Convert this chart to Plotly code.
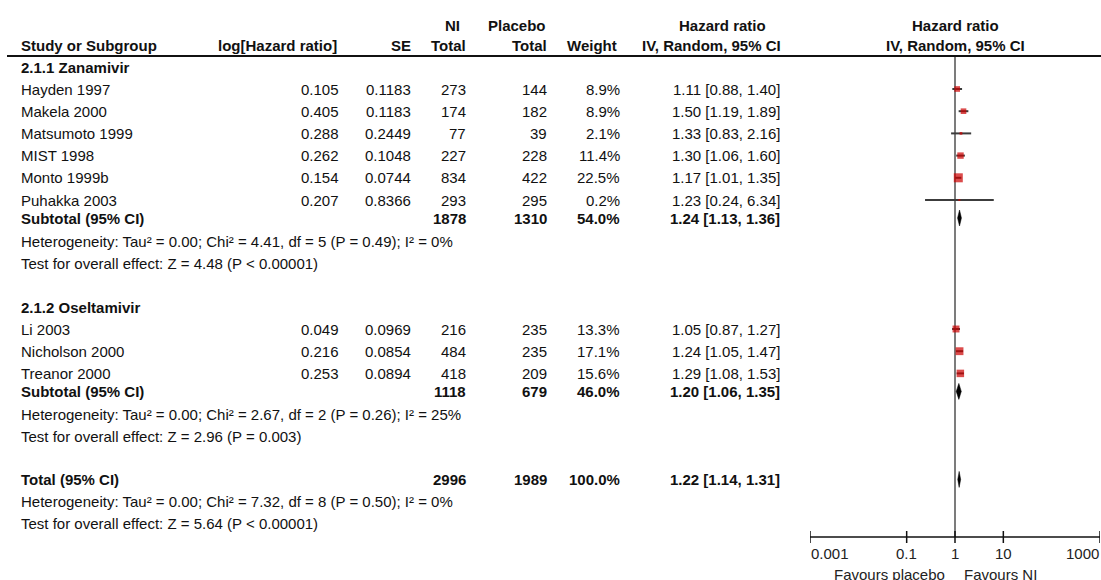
import math
import plotly.graph_objects as go

# ---- data -------------------------------------------------------------
zan_names = ["Hayden 1997", "Makela 2000", "Matsumoto 1999", "MIST 1998", "Monto 1999b", "Puhakka 2003"]
zan_loghr = ["0.105", "0.405", "0.288", "0.262", "0.154", "0.207"]
zan_se = ["0.1183", "0.1183", "0.2449", "0.1048", "0.0744", "0.8366"]
zan_ni = [273, 174, 77, 227, 834, 293]
zan_pl = [144, 182, 39, 228, 422, 295]
zan_weight = [8.9, 8.9, 2.1, 11.4, 22.5, 0.2]
zan_hr = [1.11, 1.50, 1.33, 1.30, 1.17, 1.23]
zan_lo = [0.88, 1.19, 0.83, 1.06, 1.01, 0.24]
zan_hi = [1.40, 1.89, 2.16, 1.60, 1.35, 6.34]

osel_names = ["Li 2003", "Nicholson 2000", "Treanor 2000"]
osel_loghr = ["0.049", "0.216", "0.253"]
osel_se = ["0.0969", "0.0854", "0.0894"]
osel_ni = [216, 484, 418]
osel_pl = [235, 235, 209]
osel_weight = [13.3, 17.1, 15.6]
osel_hr = [1.05, 1.24, 1.29]
osel_lo = [0.87, 1.05, 1.08]
osel_hi = [1.27, 1.47, 1.53]

# pooled estimates: [Zanamivir subtotal, Oseltamivir subtotal, Total]
pool_ni = [1878, 1118, 2996]
pool_pl = [1310, 679, 1989]
pool_weight = [54.0, 46.0, 100.0]
pool_hr = [1.24, 1.20, 1.22]
pool_lo = [1.13, 1.06, 1.14]
pool_hi = [1.36, 1.35, 1.31]
pool_het = [
    "Heterogeneity: Tau² = 0.00; Chi² = 4.41, df = 5 (P = 0.49); I² = 0%",
    "Heterogeneity: Tau² = 0.00; Chi² = 2.67, df = 2 (P = 0.26); I² = 25%",
    "Heterogeneity: Tau² = 0.00; Chi² = 7.32, df = 8 (P = 0.50); I² = 0%",
]
pool_test = [
    "Test for overall effect: Z = 4.48 (P < 0.00001)",
    "Test for overall effect: Z = 2.96 (P = 0.003)",
    "Test for overall effect: Z = 5.64 (P < 0.00001)",
]
tick_vals = [0.001, 0.1, 1, 10, 1000]
tick_text = ["0.001", "0.1", "1", "10", "1000"]

# ---- layout constants -------------------------------------------------
W, H = 1101, 580
FONT = "Liberation Sans"
FS = 15
TXT = "#111111"
RED = "#CC0000"
CI_COL = "#3c3c3c"

Y_HDR1, Y_HDR2, Y_RULE = 25, 45, 56
Y_AXIS, Y_TICKLAB, Y_FAV = 537, 553, 574

# vertical spacing of the table rows (pixels)
GAP_TITLE = 22     # group title -> first study
STEP = 22.2        # study -> study
GAP_SUB = 18       # last study -> subtotal
GAP_HET = 23       # subtotal -> heterogeneity
GAP_TEST = 22      # heterogeneity -> test line
GAP_GROUP = 44     # test line -> next block

# column anchors (pixels)
X_NAME = 20
X_LOGHR = 340
X_SE = 412
X_NI = 467
X_PL = 548
X_W = 621
X_CI = 781
X_PLOT_C = 955

annotations = []

def txt(x, y, s, anchor="left", bold=False, size=FS, xref="paper", color=TXT, xshift=0):
    annotations.append(dict(
        x=x / W if xref == "paper" else x, xref=xref, y=y, yref="y",
        text=f"<b>{s}</b>" if bold else s, showarrow=False,
        xanchor=anchor, yanchor="middle", xshift=xshift, borderpad=0,
        font=dict(family=FONT, size=size, color=color)))

def ci_text(hr, lo, hi):
    return f"{hr:.2f} [{lo:.2f}, {hi:.2f}]"

# ---- header ------------------------------------------------------------
txt(452, Y_HDR1, "NI", "center", True)
txt(547, Y_HDR1, "Placebo", "right", True)
txt(722, Y_HDR1, "Hazard ratio", "center", True)
txt(X_PLOT_C, Y_HDR1, "Hazard ratio", "center", True)
txt(X_NAME, Y_HDR2, "Study or Subgroup", "left", True)
txt(X_LOGHR - 2, Y_HDR2, "log[Hazard ratio]", "right", True)
txt(X_SE, Y_HDR2, "SE", "right", True)
txt(X_NI, Y_HDR2, "Total", "right", True)
txt(X_PL, Y_HDR2, "Total", "right", True)
txt(X_W - 3, Y_HDR2, "Weight", "right", True)
txt(X_CI + 1, Y_HDR2, "IV, Random, 95% CI", "right", True)
txt(X_PLOT_C, Y_HDR2, "IV, Random, 95% CI", "center", True)

# ---- table body ----------------------------------------------------------
groups = [
    ("2.1.1 Zanamivir", zan_names, zan_loghr, zan_se, zan_ni, zan_pl, zan_weight, zan_hr, zan_lo, zan_hi),
    ("2.1.2 Oseltamivir", osel_names, osel_loghr, osel_se, osel_ni, osel_pl, osel_weight, osel_hr, osel_lo, osel_hi),
]

sq_x, sq_y, sq_size = [], [], []
ci_x, ci_y = [], []
pool_rows = []

cursor = 67
for gi, (title, names, lhr, se, ni, pl, wt, hr, lo, hi) in enumerate(groups):
    txt(X_NAME, cursor, title, "left", True)
    for i in range(len(names)):
        y = cursor + GAP_TITLE + STEP * i
        txt(X_NAME, y, names[i])
        txt(X_LOGHR, y, lhr[i], "right")
        txt(X_SE, y, se[i], "right")
        txt(X_NI, y, str(ni[i]), "right")
        txt(X_PL, y, str(pl[i]), "right")
        txt(X_W, y, f"{wt[i]:.1f}%", "right")
        txt(X_CI, y, ci_text(hr[i], lo[i], hi[i]), "right")
        sq_x.append(hr[i]); sq_y.append(y)
        sq_size.append(max(2.0, 1.9 * math.sqrt(wt[i])))
        ci_x += [lo[i], hi[i], None]; ci_y += [y, y, None]
    y_sub = cursor + GAP_TITLE + STEP * (len(names) - 1) + GAP_SUB
    pool_rows.append((gi, "Subtotal (95% CI)", y_sub, y_sub + GAP_HET, y_sub + GAP_HET + GAP_TEST))
    cursor = y_sub + GAP_HET + GAP_TEST + GAP_GROUP

y_tot = cursor - 1
pool_rows.append((2, "Total (95% CI)", y_tot, y_tot + GAP_TEST, y_tot + 2 * GAP_TEST))

dia_traces = []
for gi, label, y, yh, yt in pool_rows:
    txt(X_NAME, y, label, "left", True)
    txt(X_NI, y, str(pool_ni[gi]), "right", True)
    txt(X_PL, y, str(pool_pl[gi]), "right", True)
    txt(X_W, y, f"{pool_weight[gi]:.1f}%", "right", True)
    txt(X_CI, y, ci_text(pool_hr[gi], pool_lo[gi], pool_hi[gi]), "right", True)
    txt(X_NAME, yh, pool_het[gi])
    txt(X_NAME, yt, pool_test[gi])
    dia_traces.append(go.Scatter(
        x=[pool_lo[gi], pool_hr[gi], pool_hi[gi], pool_hr[gi], pool_lo[gi]],
        y=[y, y - 8, y, y + 8, y], mode="lines", fill="toself",
        fillcolor="#000000", line=dict(color="#000000", width=0.5),
        hoverinfo="skip"))

# ---- forest plot ------------------------------------------------------------
fig = go.Figure()

# line of no effect
fig.add_trace(go.Scatter(x=[1, 1], y=[Y_RULE, Y_AXIS], mode="lines",
                         line=dict(color="#505050", width=1.5), hoverinfo="skip"))
# confidence intervals
fig.add_trace(go.Scatter(x=ci_x, y=ci_y, mode="lines",
                         line=dict(color=CI_COL, width=2), hoverinfo="skip"))
# study estimates
fig.add_trace(go.Scatter(x=sq_x, y=sq_y, mode="markers",
                         marker=dict(symbol="square", size=sq_size, color=RED,
                                     line=dict(width=0)), hoverinfo="skip"))
for t in dia_traces:
    fig.add_trace(t)

# scale bar with cross ticks
fig.add_trace(go.Scatter(x=[tick_vals[0], tick_vals[-1]], y=[Y_AXIS, Y_AXIS], mode="lines",
                         line=dict(color="#111111", width=1.5), hoverinfo="skip", cliponaxis=False))
tx, ty = [], []
for v in tick_vals:
    tx += [v, v, None]; ty += [Y_AXIS - 6, Y_AXIS + 6, None]
fig.add_trace(go.Scatter(x=tx, y=ty, mode="lines", line=dict(color="#111111", width=1.5),
                         hoverinfo="skip", cliponaxis=False))
for i, (v, s) in enumerate(zip(tick_vals, tick_text)):
    anchor = "left" if i == 0 else ("right" if i == len(tick_vals) - 1 else "center")
    txt(math.log10(v), Y_TICKLAB, s, anchor, xref="x", color="#222222")
txt(0, Y_FAV, "Favours placebo", "right", xref="x", color="#222222", xshift=-9)
txt(0, Y_FAV, "Favours NI", "left", xref="x", color="#222222", xshift=8)

fig.update_layout(
    width=W, height=H, margin=dict(l=0, r=0, t=0, b=0),
    paper_bgcolor="white", plot_bgcolor="white", showlegend=False,
    xaxis=dict(type="log", range=[-3, 3], domain=[810 / W, 1100 / W], visible=False),
    yaxis=dict(range=[H, 0], domain=[0, 1], visible=False),
    annotations=annotations,
    shapes=[dict(type="line", xref="paper", yref="y", x0=7 / W, x1=1, y0=Y_RULE, y1=Y_RULE,
                 line=dict(color="#111111", width=2))],
)

fig.write_html("out.html")
